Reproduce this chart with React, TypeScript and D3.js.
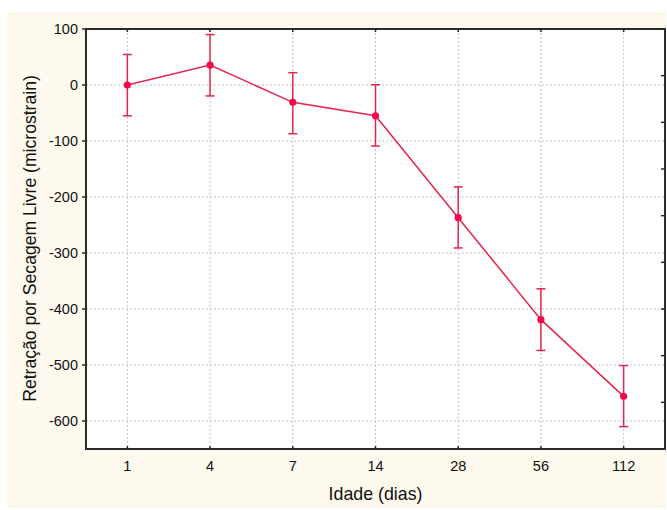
import React from "react";
import * as d3 from "d3";

const categories = ["1", "4", "7", "14", "28", "56", "112"];
const means = [0, 35.5, -31, -55, -237, -419, -556];
const upper = [54.5, 90, 22, 0.5, -182, -364, -501];
const lower = [-55, -19.5, -87, -109, -291, -474, -610];
const yTicks = [100, 0, -100, -200, -300, -400, -500, -600];
const rightMinorCount = 9;

const W = 667;
const H = 510;
const M = { left: 86, top: 29, right: 665, bottom: 449 };

export default function App() {
  const x = d3.scaleBand<string>().domain(categories).range([M.left, M.right]).padding(0);
  const cx = (c: string) => (x(c) ?? 0) + x.bandwidth() / 2;
  const y = d3.scaleLinear().domain([-650, 100]).range([M.bottom, M.top]);
  const yr = d3.scaleLinear().domain([0, rightMinorCount]).range([M.bottom, M.top]);
  const line = d3
    .line<number>()
    .x((_, i) => cx(categories[i]))
    .y((d) => y(d));
  const lineColor = "#e3264f";
  const dotColor = "#f7074a";
  const font = "'Liberation Sans', Arial, sans-serif";
  const rightTicks = d3.range(1, rightMinorCount);

  return (
    <svg width={W} height={H} style={{ position: "absolute", left: 0, top: 0 }} fontFamily={font}>
      <rect x={0} y={0} width={W} height={H} fill="#ffffff" />
      <rect x={7} y={12} width={659} height={496} fill="#fdf9ee" />
      <rect x={M.left} y={M.top} width={M.right - M.left} height={M.bottom - M.top} fill="#ffffff" />
      {/* grid */}
      {yTicks.filter((t) => t < 100).map((t) => (
        <line key={"gy" + t} x1={M.left} x2={M.right} y1={y(t)} y2={y(t)} stroke="#c4c4c4" strokeWidth={1} strokeDasharray="2,2" />
      ))}
      {categories.map((c) => (
        <line key={"gx" + c} x1={cx(c)} x2={cx(c)} y1={M.top} y2={M.bottom} stroke="#c4c4c4" strokeWidth={1} strokeDasharray="2,2" />
      ))}
      {/* frame */}
      <rect x={M.left} y={M.top} width={M.right - M.left} height={M.bottom - M.top} fill="none" stroke="#2a2a2a" strokeWidth={2} />
      {/* left ticks */}
      {yTicks.map((t) => (
        <g key={"yt" + t}>
          <line x1={M.left - 4} x2={M.left} y1={y(t)} y2={y(t)} stroke="#2a2a2a" strokeWidth={1.5} />
          <text x={78} y={y(t) + 5} textAnchor="end" fontSize={14.5} fill="#111">
            {t}
          </text>
        </g>
      ))}
      {/* right ticks */}
      {rightTicks.map((t) => (
        <line key={"rt" + t} x1={M.right - 4} x2={M.right} y1={yr(t)} y2={yr(t)} stroke="#2a2a2a" strokeWidth={1.5} />
      ))}
      {/* x ticks */}
      {categories.map((c) => (
        <g key={"xt" + c}>
          <line x1={cx(c)} x2={cx(c)} y1={M.bottom - 3} y2={M.bottom} stroke="#2a2a2a" strokeWidth={1.5} />
          <line x1={cx(c)} x2={cx(c)} y1={M.top} y2={M.top + 3} stroke="#2a2a2a" strokeWidth={1.5} />
          <text x={cx(c)} y={470.5} textAnchor="middle" fontSize={14.5} fill="#111">
            {c}
          </text>
        </g>
      ))}
      {/* error bars */}
      {categories.map((c, i) => (
        <g key={"eb" + c} stroke={lineColor} strokeWidth={1.5}>
          <line x1={cx(c)} x2={cx(c)} y1={y(upper[i])} y2={y(lower[i])} />
          <line x1={cx(c) - 4.5} x2={cx(c) + 4.5} y1={y(upper[i])} y2={y(upper[i])} />
          <line x1={cx(c) - 4.5} x2={cx(c) + 4.5} y1={y(lower[i])} y2={y(lower[i])} />
        </g>
      ))}
      <path d={line(means) ?? ""} fill="none" stroke={lineColor} strokeWidth={1.5} />
      {means.map((m, i) => (
        <circle key={"pt" + i} cx={cx(categories[i])} cy={y(m)} r={3.6} fill={dotColor} />
      ))}
      {/* titles */}
      <text x={375.5} y={499.5} textAnchor="middle" fontSize={17.8} fill="#111">
        Idade (dias)
      </text>
      <text
        transform={`translate(36, 238.5) rotate(-90)`}
        textAnchor="middle"
        fontSize={17.6}
        fill="#111"
      >
        Retração por Secagem Livre (microstrain)
      </text>
    </svg>
  );
}
